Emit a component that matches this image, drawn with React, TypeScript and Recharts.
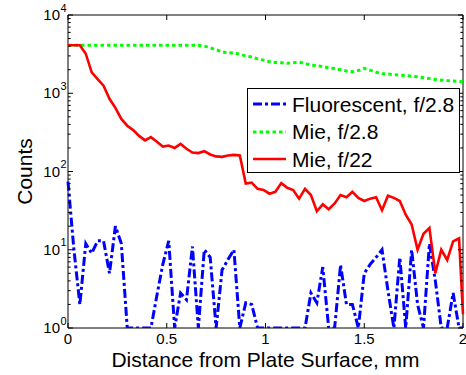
import { LineChart, Line, XAxis, YAxis, Legend, ReferenceArea } from 'recharts'

// distance from plate surface, mm
const distance = [
  0, 0.03, 0.06, 0.09, 0.12, 0.15, 0.18, 0.21, 0.24, 0.27, 0.3, 0.33, 0.36, 0.39, 0.42, 0.45, 0.48,
  0.51, 0.54, 0.57, 0.6, 0.63, 0.66, 0.69, 0.72, 0.75, 0.78, 0.81, 0.84, 0.87, 0.9, 0.93, 0.96, 0.99,
  1.02, 1.05, 1.08, 1.11, 1.14, 1.17, 1.2, 1.23, 1.26, 1.29, 1.32, 1.35, 1.38, 1.41, 1.44, 1.47, 1.5,
  1.53, 1.56, 1.59, 1.62, 1.65, 1.68, 1.71, 1.74, 1.77, 1.8, 1.83, 1.86, 1.89, 1.92, 1.95, 1.98, 2,
]

const fluorescent = [
  74, 10, 2, 12, 9, 13, 13, 5, 20, 12, 1, 1, 1, 1, 1, 2.6, 6.5, 13, 1, 2.8, 2.3, 11, 1, 10, 8, 1, 5.5,
  7.5, 10, 1, 2.1, 2, 1, 1, 1, 1, 1, 1, 1, 1, 1, 2.8, 2.1, 6, 1, 1, 6.4, 2, 2, 1, 5, 6.5, 8, 10, 3, 1,
  8, 1, 10, 2, 1, 12, 4, 1, 1, 2.8, 1, 1,
]

const mieF28 = [
  4100, 4100, 4100, 4100, 4100, 4100, 4100, 4100, 4100, 4100, 4100, 4100, 4100, 4100, 4100, 4100,
  4100, 4100, 4100, 4100, 4100, 4100, 4100, 4000, 3800, 3600, 3400, 3250, 3300, 3150, 3000, 2900,
  2750, 2650, 2530, 2480, 2450, 2420, 2450, 2500, 2400, 2290, 2250, 2200, 2100, 2070, 2000, 1920,
  1880, 1950, 2080, 1970, 1850, 1790, 1760, 1730, 1700, 1680, 1650, 1620, 1580, 1540, 1500, 1470,
  1450, 1430, 1410, 1400,
]

const mieF22 = [
  4100, 4100, 4100, 3200, 1850, 1520, 1250, 850, 650, 470, 385, 338, 285, 250, 275, 240, 208, 215,
  200, 225, 195, 175, 172, 182, 165, 156, 154, 160, 163, 160, 70, 72, 60, 58, 52, 55, 71, 62, 58, 45,
  60, 50, 31, 38, 33, 39, 50, 47, 55, 46, 42, 45, 47, 32, 49, 46, 42, 28, 21, 10, 16, 19, 5, 10, 7.4,
  12.8, 14, 1.5,
]

const xTicks = [0, 0.5, 1, 1.5, 2]
const yTicks = [
  1, 2, 3, 4, 5, 6, 7, 8, 9, 10, 20, 30, 40, 50, 60, 70, 80, 90, 100, 200, 300, 400, 500, 600, 700,
  800, 900, 1000, 2000, 3000, 4000, 5000, 6000, 7000, 8000, 9000, 10000,
]
const decades = [1, 10, 100, 1000, 10000]

const data = distance.map((d, i) => ({
  d,
  fluorescent: fluorescent[i],
  mieF28: mieF28[i],
  mieF22: mieF22[i],
}))

const series = [
  { key: 'fluorescent', name: 'Fluorescent, f/2.8', color: '#0000ff', dash: '9 3 3 3', width: 3 },
  { key: 'mieF28', name: 'Mie, f/2.8', color: '#00ff00', dash: '3.5 3', width: 3 },
  { key: 'mieF22', name: 'Mie, f/22', color: '#ff0000', dash: undefined, width: 2.6 },
]

// plot box
const LEFT = 68
const RIGHT = 463
const TOP = 15
const BOTTOM = 328
const FONT = '"Liberation Sans", Arial, sans-serif'

function XTick(props: any) {
  const { x, payload } = props
  return (
    <g>
      <line x1={x} x2={x} y1={BOTTOM} y2={BOTTOM - 5} stroke="#000" />
      <line x1={x} x2={x} y1={TOP} y2={TOP + 5} stroke="#000" />
      <text x={x} y={343.5} textAnchor="middle" fontSize={15} fill="#000">
        {payload.value}
      </text>
    </g>
  )
}

function YTick(props: any) {
  const { y, payload } = props
  const idx = decades.indexOf(payload.value)
  const len = idx >= 0 ? 5 : 2.7
  return (
    <g>
      <line x1={LEFT} x2={LEFT + len} y1={y} y2={y} stroke="#000" />
      <line x1={RIGHT} x2={RIGHT - len} y1={y} y2={y} stroke="#000" />
      {idx >= 0 && (
        <>
          <text x={60} y={y + 5} textAnchor="end" fontSize={15} fill="#000">
            10
          </text>
          <text x={60.5} y={y - 3.5} textAnchor="start" fontSize={11} fill="#000">
            {idx}
          </text>
        </>
      )}
    </g>
  )
}

function XLabel() {
  return (
    <text x={265.5} y={366.5} textAnchor="middle" fontSize={21} fill="#000">
      Distance from Plate Surface, mm
    </text>
  )
}

function YLabel() {
  return (
    <text
      x={24}
      y={171.5}
      textAnchor="middle"
      dominantBaseline="central"
      fontSize={21}
      fill="#000"
      transform="rotate(-90, 24, 171.5)"
    >
      Counts
    </text>
  )
}

function LegendBox() {
  return (
    <div
      style={{
        boxSizing: 'border-box',
        width: 213,
        height: 85,
        border: '1px solid #000',
        background: '#fff',
        paddingTop: 1.5,
        fontFamily: FONT,
      }}
    >
      {series.map((s) => (
        <div key={s.key} style={{ display: 'flex', alignItems: 'center', height: 27.5 }}>
          <svg width={40} height={10} style={{ marginLeft: 4 }}>
            <line
              x1={1}
              x2={34}
              y1={5}
              y2={5}
              stroke={s.color}
              strokeWidth={s.width}
              strokeDasharray={s.dash}
            />
          </svg>
          <span style={{ fontSize: 21, lineHeight: '21px', color: '#000' }}>{s.name}</span>
        </div>
      ))}
    </div>
  )
}

export default function App() {
  return (
    <div style={{ position: 'fixed', left: 0, top: 0, width: 466, height: 375, background: '#fff' }}>
      <LineChart
        width={466}
        height={375}
        data={data}
        margin={{ top: TOP, right: 466 - RIGHT, bottom: 0, left: 8 }}
        style={{ fontFamily: FONT }}
      >
        <XAxis
          dataKey="d"
          type="number"
          domain={[0, 2]}
          ticks={xTicks}
          interval={0}
          height={375 - BOTTOM}
          axisLine={false}
          tickLine={false}
          tick={<XTick />}
          label={<XLabel />}
        />
        <YAxis
          scale="log"
          domain={[1, 10000]}
          allowDataOverflow
          ticks={yTicks}
          interval={0}
          width={LEFT - 8}
          axisLine={false}
          tickLine={false}
          tick={<YTick />}
          label={<YLabel />}
        />
        <ReferenceArea x1={0} x2={2} y1={1} y2={10000} fill="none" stroke="#000" strokeWidth={1} />
        {series.map((s) => (
          <Line
            key={s.key}
            dataKey={s.key}
            name={s.name}
            type="linear"
            stroke={s.color}
            strokeWidth={s.width}
            strokeDasharray={s.dash}
            dot={false}
            activeDot={false}
            isAnimationActive={false}
          />
        ))}
        <Legend
          layout="vertical"
          align="center"
          verticalAlign="middle"
          content={() => <LegendBox />}
          wrapperStyle={{ left: 247, top: 88, width: 213, height: 85 }}
        />
      </LineChart>
    </div>
  )
}
